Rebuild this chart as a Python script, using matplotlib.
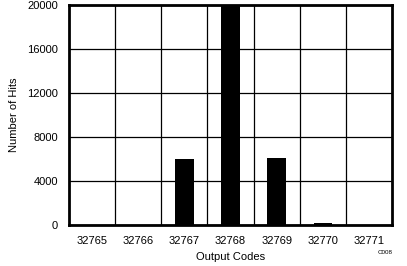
import numpy as np
import matplotlib.pyplot as plt

plt.rcParams['font.family'] = ['Liberation Sans', 'DejaVu Sans']

codes = ['32765', '32766', '32767', '32768', '32769', '32770', '32771']
hits = [0, 0, 5970, 21500, 6060, 180, 0]

fig = plt.figure(figsize=(4.07, 2.66), dpi=100)
ax = fig.add_axes([69/407, 41/266, 323/407, 220/266])

x = np.arange(len(codes))
ax.bar(x, hits, width=0.4, color='black', zorder=3)

ax.set_xlim(-0.5, len(codes) - 0.5)
ax.set_ylim(0, 20000)
ax.set_yticks(np.arange(0, 20001, 4000))
ax.set_xticks(x)
ax.set_xticklabels(codes)
ax.set_xticks(np.arange(0.5, len(codes) - 1, 1), minor=True)
ax.grid(which='minor', axis='x', color='black', linewidth=0.9, zorder=1)
ax.grid(which='major', axis='y', color='black', linewidth=0.9, zorder=1)
ax.tick_params(which='both', length=0, labelsize=8)
ax.tick_params(axis='x', pad=8)
ax.tick_params(axis='y', pad=8)
for s in ax.spines.values():
    s.set_linewidth(2)

ax.set_xlabel('Output Codes', fontsize=8, labelpad=4)
ax.set_ylabel('Number of Hits', fontsize=8, labelpad=6)
fig.text(385/407, 1 - 253/266, 'C008', fontsize=4.5, ha='center', va='center')

fig.savefig('out.png', dpi=100)
